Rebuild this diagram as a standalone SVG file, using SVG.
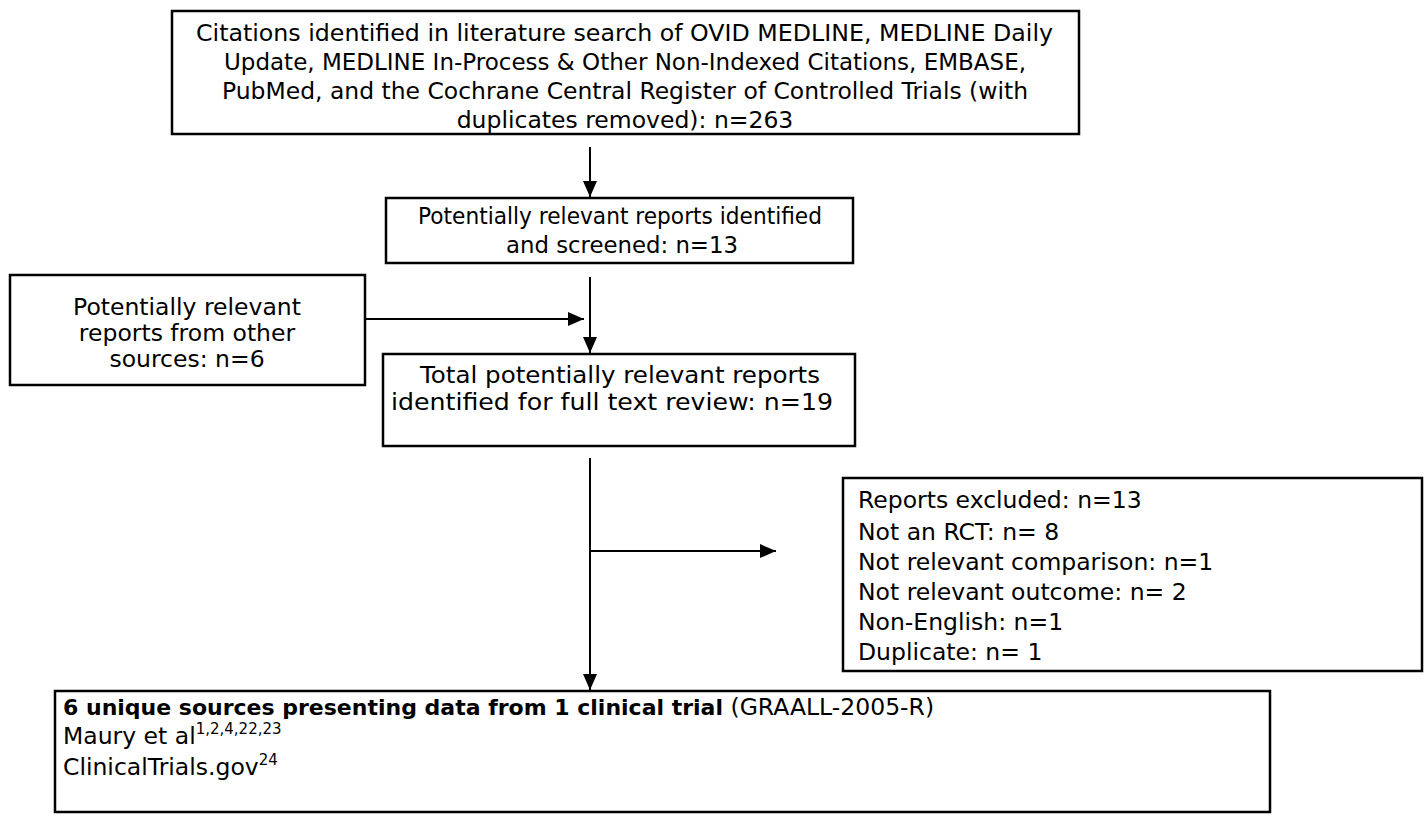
<svg xmlns="http://www.w3.org/2000/svg" width="1426" height="816" viewBox="0 0 1426 816">
<defs>
<style>
.box{fill:#fff;stroke:#000;stroke-width:2.5}
.t{font-family:"DejaVu Sans","Liberation Sans",sans-serif;font-size:23.5px;fill:#000}
.c{text-anchor:middle}
.b{font-weight:bold;font-size:22px}
.sup{font-size:15px}
.ln{stroke:#000;stroke-width:2;fill:none}
</style>
<marker id="ah" markerUnits="userSpaceOnUse" markerWidth="16" markerHeight="16" viewBox="0 0 16 16" refX="16" refY="8" orient="auto">
<path d="M0,1 L16,8 L0,15 Z" fill="#000"/>
</marker>
</defs>
<rect width="1426" height="816" fill="#fff"/>
<g id="connectors">
<line class="ln" x1="590" y1="147" x2="590" y2="197" marker-end="url(#ah)"/>
<line class="ln" x1="590" y1="277" x2="590" y2="353" marker-end="url(#ah)"/>
<line class="ln" x1="362" y1="319" x2="584" y2="319" marker-end="url(#ah)"/>
<line class="ln" x1="590" y1="458" x2="590" y2="690" marker-end="url(#ah)"/>
<line class="ln" x1="590" y1="551" x2="776" y2="551" marker-end="url(#ah)"/>
</g>
<g id="n-search">
<rect class="box" x="172" y="11" width="907" height="123"/>
<text class="t" x="196" y="41" textLength="857" lengthAdjust="spacingAndGlyphs">Citations identified in literature search of OVID MEDLINE, MEDLINE Daily</text>
<text class="t c" x="625" y="70" textLength="802" lengthAdjust="spacingAndGlyphs">Update, MEDLINE In-Process &amp; Other Non-Indexed Citations, EMBASE,</text>
<text class="t c" x="625" y="99" textLength="806" lengthAdjust="spacingAndGlyphs">PubMed, and the Cochrane Central Register of Controlled Trials (with</text>
<text class="t c" x="625" y="128">duplicates removed): n=263</text>
</g>
<g id="n-screened">
<rect class="box" x="386" y="198" width="467" height="65"/>
<text class="t c" x="620" y="224" textLength="404" lengthAdjust="spacingAndGlyphs">Potentially relevant reports identified</text>
<text class="t c" x="622" y="253" textLength="232" lengthAdjust="spacingAndGlyphs">and screened: n=13</text>
</g>
<g id="n-other">
<rect class="box" x="10" y="275" width="355" height="110"/>
<text class="t c" x="187" y="315">Potentially relevant</text>
<text class="t c" x="187" y="341">reports from other</text>
<text class="t c" x="187" y="367">sources: n=6</text>
</g>
<g id="n-total">
<rect class="box" x="383" y="354" width="472" height="92"/>
<text class="t c" x="620" y="383" textLength="400" lengthAdjust="spacingAndGlyphs">Total potentially relevant reports</text>
<text class="t c" x="612" y="410" textLength="442" lengthAdjust="spacingAndGlyphs">identified for full text review: n=19</text>
</g>
<g id="n-excluded">
<rect class="box" x="843" y="478" width="579" height="193"/>
<text class="t" x="858" y="508">Reports excluded: n=13</text>
<text class="t" x="858" y="540">Not an RCT: n= 8</text>
<text class="t" x="858" y="570">Not relevant comparison: n=1</text>
<text class="t" x="858" y="600">Not relevant outcome: n= 2</text>
<text class="t" x="858" y="630">Non-English: n=1</text>
<text class="t" x="858" y="660">Duplicate: n= 1</text>
</g>
<g id="n-included">
<rect class="box" x="55" y="691" width="1215" height="121"/>
<text class="t" x="63" y="715"><tspan class="b">6 unique sources presenting data from 1 clinical trial</tspan> (GRAALL-2005-R)</text>
<text class="t" x="63" y="744">Maury et al<tspan class="sup" dy="-10">1,2,4,22,23</tspan></text>
<text class="t" x="63" y="775">ClinicalTrials.gov<tspan class="sup" dy="-10">24</tspan></text>
</g>
</svg>
